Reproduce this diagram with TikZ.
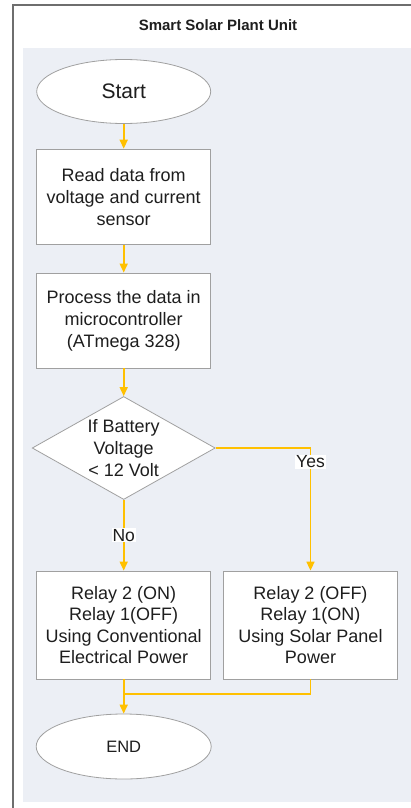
\documentclass[tikz,border=0pt]{standalone}
\usepackage{fontspec}
\setmainfont{Liberation Sans}
\usetikzlibrary{shapes.geometric,arrows.meta}
\definecolor{arr}{HTML}{FFC000}
\definecolor{bgc}{HTML}{ECEFF5}
\definecolor{bord}{HTML}{A0A0A0}
\definecolor{framec}{HTML}{6E6E6E}
\definecolor{txt}{HTML}{1E1E1E}
\begin{document}
\begin{tikzpicture}[x=1pt,y=-1pt,
  term/.style={ellipse, draw=bord, fill=white, line width=0.8pt, minimum width=174pt, minimum height=64pt, inner sep=0pt, text=txt},
  proc/.style={rectangle, draw=bord, fill=white, line width=0.8pt, minimum width=174pt, minimum height=95pt, inner sep=0pt, align=center, text=txt, font=\fontsize{18}{22}\selectfont},
  dec/.style={diamond, draw=bord, fill=white, line width=0.8pt, minimum width=183pt, minimum height=103pt, inner sep=0pt},
  flow/.style={draw=arr, line width=1.6pt, -{Triangle[width=8pt,length=9pt]}},
  flowline/.style={draw=arr, line width=1.6pt},
  lbl/.style={fill=white, inner sep=1pt, text=txt, font=\fontsize{17.5}{20}\selectfont}]
\useasboundingbox (0,0) rectangle (411,808);
\fill[bgc] (23,48) rectangle (411,802);
\draw[framec, line width=1.5pt] (13,808) -- (13,5) -- (411,5);
\node[text=txt, font=\bfseries\fontsize{15}{18}\selectfont] (title) at (218,25) {Smart Solar Plant Unit};

\node[term, font=\fontsize{21}{25}\selectfont] (start) at (123.7,91.5) {Start};
\node[proc] (read) at (123.7,196.6) {Read data from\\voltage and current\\sensor};
\node[proc] (process) at (123.7,320.5) {Process the data in\\microcontroller\\(ATmega 328)};
\node[dec] (cond) at (123.7,448) {};
\node[align=center, text=txt, font=\fontsize{18}{22}\selectfont] (condtext) at (cond.center) {If Battery\\Voltage\\< 12 Volt};
\node[proc, minimum height=108pt, font=\fontsize{18}{21.5}\selectfont] (left) at (123.7,625) {Relay 2 (ON)\\Relay 1(OFF)\\Using Conventional\\Electrical Power};
\node[proc, minimum height=108pt, font=\fontsize{18}{21.5}\selectfont] (right) at (310.5,625) {Relay 2 (OFF)\\Relay 1(ON)\\Using Solar Panel\\Power};
\node[term, minimum width=175pt, minimum height=65pt, font=\fontsize{16.5}{20}\selectfont] (end) at (123.7,746.5) {END};
\coordinate (merge) at (123.7,694);

\draw[flow] (start.south) -- (read.north);
\draw[flow] (read.south) -- (process.north);
\draw[flow] (process.south) -- (cond.north);
\draw[flow] (cond.south) -- node[lbl, pos=0.5] {No} (left.north);
\draw[flow] (cond.east) -| node[lbl, pos=0.557] {Yes} (right.north);
\draw[flow] (left.south) -- (end.north);
\draw[flowline] (right.south) |- (merge);
\end{tikzpicture}
\end{document}
